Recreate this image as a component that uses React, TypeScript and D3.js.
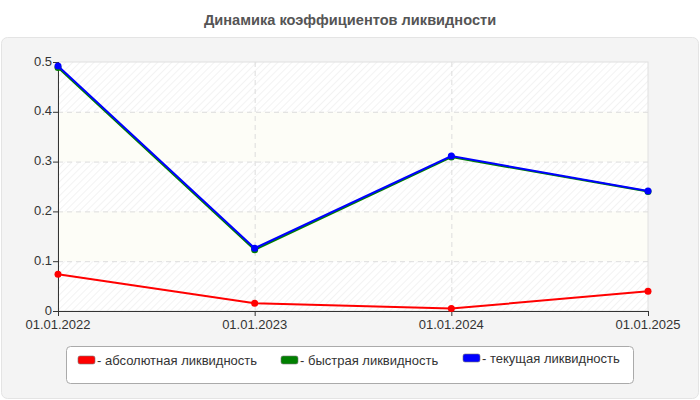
import React, { useEffect } from 'react';
import * as d3 from 'd3';

const dates = ['01.01.2022', '01.01.2023', '01.01.2024', '01.01.2025'];
const absoluteValues = [0.074, 0.0155, 0.005, 0.0395];
const quickValues = [0.489, 0.123, 0.309, 0.24];
const currentValues = [0.492, 0.126, 0.311, 0.241];
const yTicks = [0, 0.1, 0.2, 0.3, 0.4, 0.5];

const series = [
  { name: 'абсолютная ликвидность', color: '#ff0000', values: absoluteValues },
  { name: 'быстрая ликвидность', color: '#008000', values: quickValues },
  { name: 'текущая ликвидность', color: '#0000ff', values: currentValues },
];

const width = 700;
const height = 400;
const margin = { top: 62, right: 52, bottom: 89, left: 58 };
const font = '"Liberation Sans", Arial, sans-serif';

export default function App() {
  useEffect(() => {
    document.body.style.margin = '0';
  }, []);

  const x = d3.scalePoint<string>()
    .domain(dates)
    .range([margin.left, width - margin.right]);
  const y = d3.scaleLinear()
    .domain([0, 0.5])
    .range([height - margin.bottom, margin.top]);

  const line = d3.line<number>()
    .x((_, i) => x(dates[i]) as number)
    .y(d => y(d));

  const plotW = width - margin.right - margin.left;
  const bands = d3.pairs(yTicks);

  // legend item x positions (swatch start)
  const legendX = [78, 281, 463];

  return (
    <svg width={width} height={height} style={{ display: 'block', fontFamily: font }}>
      <defs>
        <pattern id="hatch" width="5" height="5" patternUnits="userSpaceOnUse" patternTransform="rotate(45)">
          <rect width="5" height="5" fill="#ffffff" />
          <line x1="0" y1="0" x2="0" y2="5" stroke="#ececec" strokeWidth="1.2" />
        </pattern>
      </defs>
      <rect width={width} height={height} fill="#ffffff" />
      <text x={width / 2} y={25} textAnchor="middle" fontSize={14.6} fontWeight="bold" fill="#555555">
        Динамика коэффициентов ликвидности
      </text>
      <rect x={1.5} y={37.5} width={width - 3} height={height - 39} rx={6} fill="#f4f4f4" stroke="#e4e4e4" />

      {/* plot background bands */}
      {bands.map(([a, b], i) => (
        <rect key={i} x={margin.left} y={y(b)} width={plotW} height={y(a) - y(b)}
          fill={i % 2 === 0 ? 'url(#hatch)' : '#fdfdf7'} />
      ))}
      <rect x={margin.left} y={margin.top} width={plotW} height={y(0) - y(0.5)} fill="none" stroke="#e0e0e0" />

      {/* grid */}
      {yTicks.slice(1, -1).map(t => (
        <line key={t} x1={margin.left} x2={width - margin.right} y1={y(t) + 0.5} y2={y(t) + 0.5}
          stroke="#dddddd" strokeDasharray="5,4" />
      ))}
      {dates.slice(1, -1).map(d => (
        <line key={d} x1={(x(d) as number) + 0.5} x2={(x(d) as number) + 0.5} y1={margin.top} y2={y(0)}
          stroke="#dddddd" strokeDasharray="5,4" />
      ))}

      {/* axes */}
      <line x1={margin.left + 0.5} x2={margin.left + 0.5} y1={margin.top} y2={y(0) + 5} stroke="#333333" />
      <line x1={margin.left - 5} x2={width - margin.right} y1={y(0) + 0.5} y2={y(0) + 0.5} stroke="#333333" />
      {yTicks.map(t => (
        <g key={t}>
          <line x1={margin.left - 5} x2={margin.left} y1={y(t) + 0.5} y2={y(t) + 0.5} stroke="#333333" />
          <text x={margin.left - 6} y={y(t) - 1} dy="0.35em" textAnchor="end" fontSize={13} fill="#333333">
            {t === 0 ? '0' : d3.format('.1f')(t)}
          </text>
        </g>
      ))}
      {dates.map(d => (
        <g key={d}>
          <line x1={(x(d) as number) + 0.5} x2={(x(d) as number) + 0.5} y1={y(0)} y2={y(0) + 5} stroke="#333333" />
          <text x={x(d) as number} y={y(0) + 17.5} textAnchor="middle" fontSize={13} fill="#333333">{d}</text>
        </g>
      ))}

      {/* series */}
      {series.map(s => (
        <g key={s.name}>
          <path d={line(s.values) as string} fill="none" stroke={s.color} strokeWidth={2} />
          {s.values.map((v, i) => (
            <circle key={i} cx={x(dates[i]) as number} cy={y(v)} r={3.5} fill={s.color} />
          ))}
        </g>
      ))}

      {/* legend */}
      <rect x={66.5} y={346.5} width={567} height={37} rx={4} fill="#ffffff" stroke="#aaaaaa" />
      {series.map((s, i) => (
        <g key={s.name} transform={`translate(${legendX[i]},${i === 2 ? 358 : 360})`}>
          <rect x={0} y={-4} width={17} height={8} rx={2} fill={s.color} stroke="#777777" strokeWidth={0.6} />
          <text x={19} y={0} dy="0.35em" fontSize={13} fill="#333333">- {s.name}</text>
        </g>
      ))}
    </svg>
  );
}
